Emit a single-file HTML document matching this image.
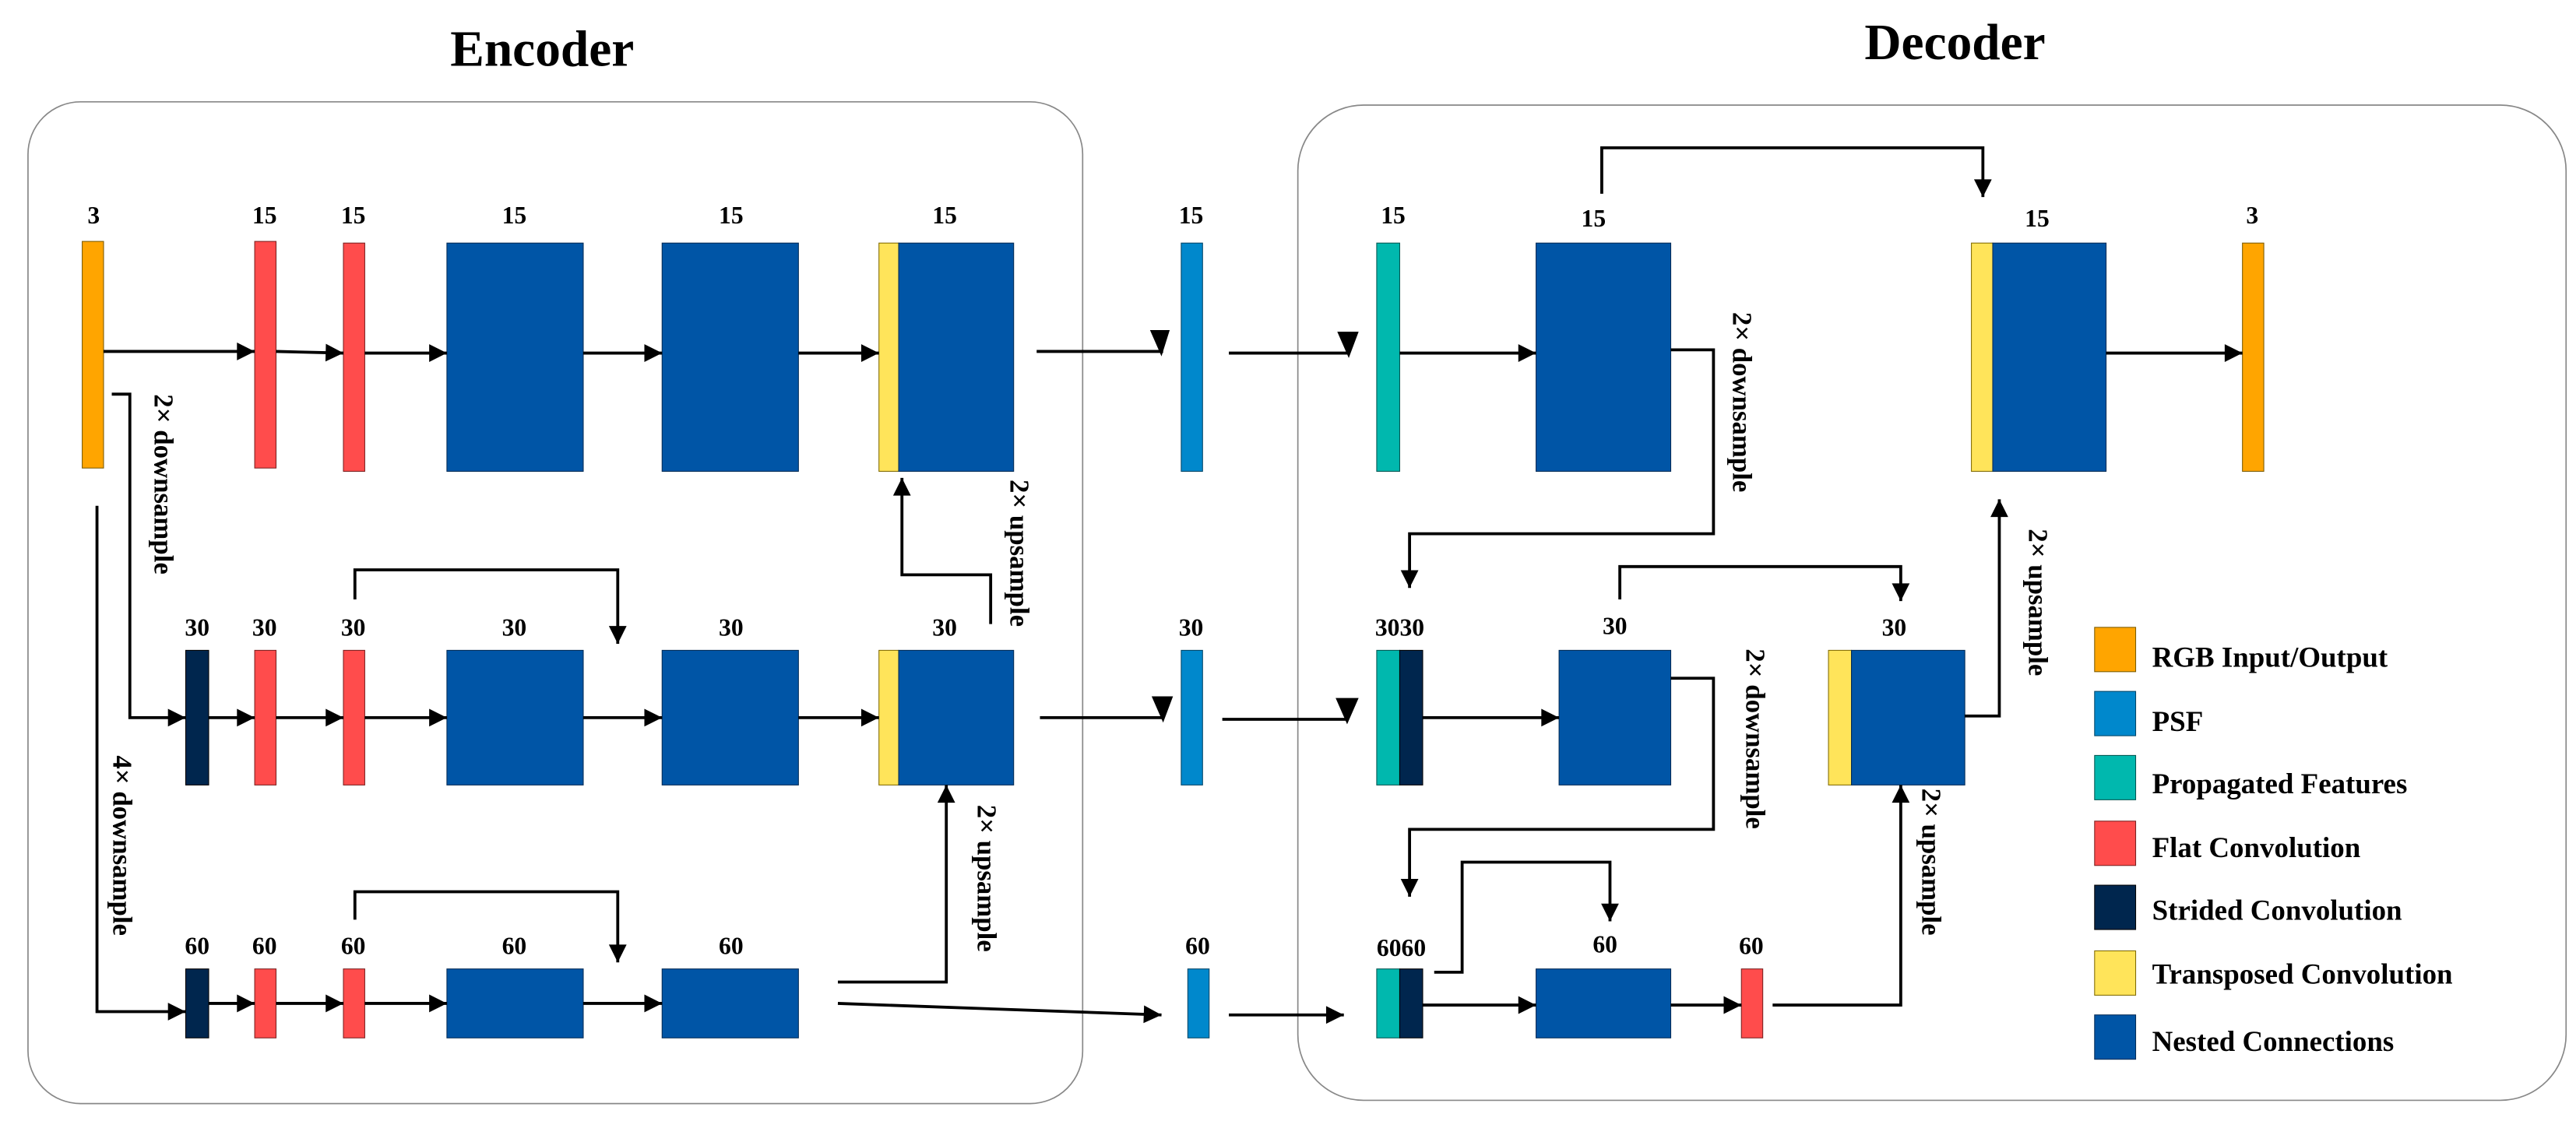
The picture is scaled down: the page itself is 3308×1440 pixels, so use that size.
<!DOCTYPE html>
<html><head><meta charset="utf-8"><style>
html,body{margin:0;padding:0;background:#fff;}
svg{display:block;}
text{font-family:"Liberation Serif",serif;font-weight:bold;fill:#000;}
</style></head><body>
<svg width="3308" height="1440" viewBox="0 0 1568 682.6" xmlns="http://www.w3.org/2000/svg">
<defs>
<marker id="b" viewBox="0 0 10 10" refX="10" refY="5" markerWidth="7" markerHeight="6" orient="auto" markerUnits="strokeWidth"><path d="M0,0L10,5L0,10z" fill="#000"/></marker>
</defs>
<style>
.l{stroke:#000;stroke-width:1.8;fill:none;}
.o{fill:#FFA500;stroke:#7a5a00;stroke-width:.5}
.r{fill:#FF4C4C;stroke:#7a2020;stroke-width:.5}
.n{fill:#0055A6;stroke:#002a55;stroke-width:.5}
.p{fill:#0088CC;stroke:#004466;stroke-width:.5}
.t{fill:#00B8AE;stroke:#005550;stroke-width:.5}
.d{fill:#00264E;stroke:#000;stroke-width:.5}
.y{fill:#FFE45A;stroke:#806a00;stroke-width:.5}
.lb{font-size:15px;text-anchor:middle}
.v{font-size:16.5px}
</style>
<text x="330" y="40" font-size="31" text-anchor="middle">Encoder</text>
<text x="1190" y="36" font-size="31" text-anchor="middle">Decoder</text>
<rect x="17" y="62" width="642" height="610" rx="32" fill="none" stroke="#888" stroke-width="0.8"/>
<rect x="790" y="64" width="772" height="606" rx="40" fill="none" stroke="#888" stroke-width="0.8"/>

<!-- Row 1 -->
<rect class="o" x="50" y="147" width="13" height="138"/>
<rect class="r" x="155" y="147" width="13" height="138"/>
<rect class="r" x="209" y="148" width="13" height="139"/>
<rect class="n" x="272" y="148" width="83" height="139"/>
<rect class="n" x="403" y="148" width="83" height="139"/>
<rect class="y" x="535" y="148" width="12" height="139"/>
<rect class="n" x="547" y="148" width="70" height="139"/>
<rect class="p" x="719" y="148" width="13" height="139"/>
<rect class="t" x="838" y="148" width="14" height="139"/>
<rect class="n" x="935" y="148" width="82" height="139"/>
<rect class="y" x="1200" y="148" width="13" height="139"/>
<rect class="n" x="1213" y="148" width="69" height="139"/>
<rect class="o" x="1365" y="148" width="13" height="139"/>
<g class="lb"><text x="57" y="136">3</text><text x="161" y="136">15</text><text x="215" y="136">15</text><text x="313" y="136">15</text><text x="445" y="136">15</text><text x="575" y="136">15</text><text x="725" y="136">15</text><text x="848" y="136">15</text><text x="970" y="138">15</text><text x="1240" y="138">15</text><text x="1371" y="136">3</text></g>
<g class="l" marker-end="url(#b)">
<line x1="63" y1="214" x2="155" y2="214"/>
<line x1="168" y1="214" x2="209" y2="215"/>
<line x1="222" y1="215" x2="272" y2="215"/>
<line x1="355" y1="215" x2="403" y2="215"/>
<line x1="486" y1="215" x2="535" y2="215"/>
<line x1="852" y1="215" x2="935" y2="215"/>
<line x1="1282" y1="215" x2="1365" y2="215"/>
<polyline points="975,118 975,90 1207,90 1207,120"/>
<polyline points="1017,213 1043,213 1043,325 858,325 858,358"/>
</g>
<g fill="#000"><path d="M631,214H708" class="l"/><path d="M700,201L712,201L707,217z"/>
<path d="M748,215H820" class="l"/><path d="M814,202L827,202L821,218z"/></g>

<!-- Row 2 -->
<rect class="d" x="113" y="396" width="14" height="82"/>
<rect class="r" x="155" y="396" width="13" height="82"/>
<rect class="r" x="209" y="396" width="13" height="82"/>
<rect class="n" x="272" y="396" width="83" height="82"/>
<rect class="n" x="403" y="396" width="83" height="82"/>
<rect class="y" x="535" y="396" width="12" height="82"/>
<rect class="n" x="547" y="396" width="70" height="82"/>
<rect class="p" x="719" y="396" width="13" height="82"/>
<rect class="t" x="838" y="396" width="14" height="82"/>
<rect class="d" x="852" y="396" width="14" height="82"/>
<rect class="n" x="949" y="396" width="68" height="82"/>
<rect class="y" x="1113" y="396" width="14" height="82"/>
<rect class="n" x="1127" y="396" width="69" height="82"/>
<g class="lb"><text x="120" y="387">30</text><text x="161" y="387">30</text><text x="215" y="387">30</text><text x="313" y="387">30</text><text x="445" y="387">30</text><text x="575" y="387">30</text><text x="725" y="387">30</text><text x="852" y="387">3030</text><text x="983" y="386">30</text><text x="1153" y="387">30</text></g>
<g class="l" marker-end="url(#b)">
<polyline points="68,240 79,240 79,437 113,437"/>
<line x1="127" y1="437" x2="155" y2="437"/>
<line x1="168" y1="437" x2="209" y2="437"/>
<line x1="222" y1="437" x2="272" y2="437"/>
<line x1="355" y1="437" x2="403" y2="437"/>
<line x1="486" y1="437" x2="535" y2="437"/>
<polyline points="216,365 216,347 376,347 376,392"/>
<polyline points="603,380 603,350 549,350 549,291"/>
<line x1="866" y1="437" x2="949" y2="437"/>
<polyline points="986,365 986,345 1157,345 1157,366"/>
<polyline points="1017,413 1043,413 1043,505 858,505 858,546"/>
<polyline points="1196,436 1217,436 1217,304"/>
</g>
<g fill="#000"><path d="M633,437H708" class="l"/><path d="M701,424L714,424L708,440z"/>
<path d="M744,438H820" class="l"/><path d="M813,425L827,425L820,441z"/></g>

<!-- Row 3 -->
<rect class="d" x="113" y="590" width="14" height="42"/>
<rect class="r" x="155" y="590" width="13" height="42"/>
<rect class="r" x="209" y="590" width="13" height="42"/>
<rect class="n" x="272" y="590" width="83" height="42"/>
<rect class="n" x="403" y="590" width="83" height="42"/>
<rect class="p" x="723" y="590" width="13" height="42"/>
<rect class="t" x="838" y="590" width="14" height="42"/>
<rect class="d" x="852" y="590" width="14" height="42"/>
<rect class="n" x="935" y="590" width="82" height="42"/>
<rect class="r" x="1060" y="590" width="13" height="42"/>
<g class="lb"><text x="120" y="581">60</text><text x="161" y="581">60</text><text x="215" y="581">60</text><text x="313" y="581">60</text><text x="445" y="581">60</text><text x="729" y="581">60</text><text x="853" y="582">6060</text><text x="977" y="580">60</text><text x="1066" y="581">60</text></g>
<g class="l" marker-end="url(#b)">
<polyline points="59,308 59,616 113,616"/>
<line x1="127" y1="611" x2="155" y2="611"/>
<line x1="168" y1="611" x2="209" y2="611"/>
<line x1="222" y1="611" x2="272" y2="611"/>
<line x1="355" y1="611" x2="403" y2="611"/>
<polyline points="216,560 216,543 376,543 376,586"/>
<polyline points="510,598 576,598 576,478"/>
<line x1="510" y1="611" x2="707" y2="618"/>
<line x1="748" y1="618" x2="818" y2="618"/>
<polyline points="873,592 890,592 890,525 980,525 980,561"/>
<line x1="866" y1="612" x2="935" y2="612"/>
<line x1="1017" y1="612" x2="1060" y2="612"/>
<polyline points="1079,612 1157,612 1157,478"/>
</g>

<!-- vertical labels -->
<g class="v">
<text transform="translate(94,240) rotate(90)">2× downsample</text>
<text transform="translate(69,460) rotate(90)">4× downsample</text>
<text transform="translate(615,292) rotate(90)">2× upsample</text>
<text transform="translate(595,490) rotate(90)">2× upsample</text>
<text transform="translate(1055,190) rotate(90)">2× downsample</text>
<text transform="translate(1063,395) rotate(90)">2× downsample</text>
<text transform="translate(1235,322) rotate(90)">2× upsample</text>
<text transform="translate(1170,480) rotate(90)">2× upsample</text>
</g>

<!-- legend -->
<rect class="o" x="1275" y="382" width="25" height="27"/>
<rect class="p" x="1275" y="421" width="25" height="27"/>
<rect class="t" x="1275" y="460" width="25" height="27"/>
<rect class="r" x="1275" y="500" width="25" height="27"/>
<rect class="d" x="1275" y="539" width="25" height="27"/>
<rect class="y" x="1275" y="579" width="25" height="27"/>
<rect class="n" x="1275" y="618" width="25" height="27"/>
<g font-size="17.5">
<text x="1310" y="406">RGB Input/Output</text>
<text x="1310" y="445">PSF</text>
<text x="1310" y="483">Propagated Features</text>
<text x="1310" y="522">Flat Convolution</text>
<text x="1310" y="560">Strided Convolution</text>
<text x="1310" y="599">Transposed Convolution</text>
<text x="1310" y="640">Nested Connections</text>
</g>
</svg>
</body></html>
